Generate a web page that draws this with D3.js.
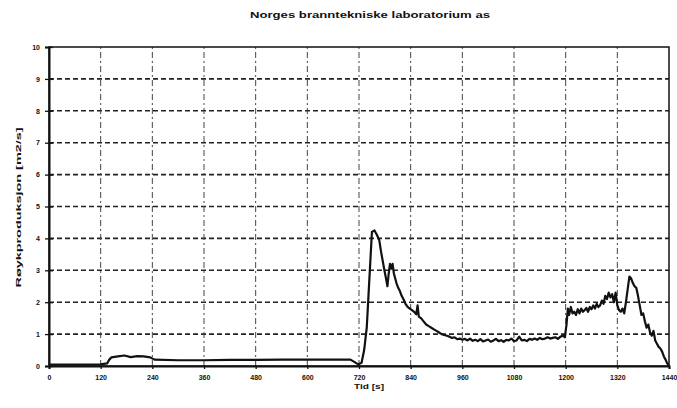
<!DOCTYPE html>
<html>
<head>
<meta charset="utf-8">
<script src="https://cdn.jsdelivr.net/npm/d3@7"></script>
<style>
  body { margin: 0; background: #fff; }
  text { font-family: "Liberation Sans", Arial, sans-serif; font-weight: bold; fill: #111; }
</style>
</head>
<body>
<svg id="chart"></svg>
<script>
const width = 677;
const height = 408;
const margin = { left: 49, right: 7, top: 47, bottom: 42 };

const title = 'Norges branntekniske laboratorium as';
const xTitle = 'Tid [s]';
const yTitle = 'Røykproduksjon [m2/s]';

const xTicks = [0, 120, 240, 360, 480, 600, 720, 840, 960, 1080, 1200, 1320, 1440];
const yTicks = [0, 1, 2, 3, 4, 5, 6, 7, 8, 9, 10];

// time [s]
const times = [
    0, 60, 120, 135, 140, 145, 160, 175, 190, 205, 220, 235, 245, 300, 360, 420, 480, 540, 600, 660,
    700, 710, 718, 726, 732, 738, 742, 746, 750, 756, 762, 767, 771, 775, 779, 782, 786, 789, 792, 795,
    798, 801, 804, 807, 811, 815, 819, 823, 828, 833, 838, 843, 848, 853, 856, 859, 864, 870, 876, 882,
    888, 894, 900, 906, 912, 918, 924, 930, 936, 942, 948, 954, 960, 966, 972, 978, 984, 990, 996, 1002,
    1008, 1014, 1020, 1026, 1032, 1038, 1044, 1050, 1056, 1062, 1068, 1074, 1080, 1086, 1092, 1098, 1104, 1110, 1116, 1122,
    1128, 1134, 1140, 1146, 1152, 1158, 1164, 1170, 1176, 1182, 1188, 1194, 1198, 1202, 1205, 1208, 1212, 1216, 1220, 1224,
    1228, 1232, 1236, 1240, 1244, 1248, 1252, 1256, 1260, 1264, 1268, 1272, 1276, 1280, 1284, 1288, 1292, 1296, 1300, 1304,
    1308, 1312, 1316, 1320, 1324, 1328, 1332, 1336, 1340, 1344, 1348, 1352, 1356, 1360, 1364, 1368, 1372, 1376, 1380, 1384,
    1388, 1392, 1396, 1400, 1404, 1408, 1412, 1416, 1420, 1424, 1428, 1432, 1436, 1440
];

// smoke production [m2/s]
const smoke = [
    0.04, 0.04, 0.05, 0.08, 0.2, 0.27, 0.3, 0.33, 0.28, 0.31, 0.3, 0.27, 0.2, 0.18, 0.18, 0.19, 0.19, 0.2, 0.2, 0.2,
    0.2, 0.12, 0.05, 0.1, 0.5, 1.2, 2.2, 3.2, 4.2, 4.25, 4.1, 3.95, 3.6, 3.3, 3.0, 2.8, 2.5, 2.9, 3.2, 3.05,
    3.2, 2.9, 2.75, 2.6, 2.45, 2.35, 2.2, 2.1, 1.95, 1.85, 1.8, 1.75, 1.7, 1.62, 1.9, 1.55, 1.5, 1.4, 1.3, 1.25,
    1.2, 1.15, 1.1, 1.05, 1.0, 0.97, 0.95, 0.92, 0.88, 0.9, 0.84, 0.86, 0.82, 0.85, 0.8, 0.86, 0.79, 0.82, 0.78, 0.84,
    0.77, 0.8, 0.83, 0.76, 0.8, 0.85, 0.78, 0.81, 0.76, 0.82, 0.8, 0.86, 0.78, 0.8, 0.92, 0.8, 0.82, 0.78, 0.85, 0.82,
    0.86, 0.82, 0.88, 0.84, 0.86, 0.9, 0.86, 0.88, 0.9, 0.85, 0.92, 0.95, 0.9, 1.3, 1.8, 1.6, 1.85, 1.65, 1.7, 1.6,
    1.78, 1.65, 1.8, 1.7, 1.75, 1.82, 1.7, 1.85, 1.78, 1.9, 1.8, 1.95, 1.85, 1.9, 2.05, 1.95, 2.2, 2.1, 2.3, 2.15,
    2.25, 2.0, 2.3, 1.9, 1.75, 1.7, 1.8, 1.65, 2.0, 2.4, 2.8, 2.75, 2.6, 2.5, 2.45, 2.2, 1.9, 1.6, 1.65, 1.4,
    1.2, 1.3, 1.05, 0.95, 1.1, 0.8, 0.7, 0.6, 0.55, 0.45, 0.3, 0.2, 0.08, 0.0
];

const svg = d3.select('#chart')
    .attr('width', width)
    .attr('height', height);

const x = d3.scaleLinear().domain([0, 1440]).range([margin.left, width - margin.right - 1]);
const y = d3.scaleLinear().domain([0, 10]).range([height - margin.bottom, margin.top]);

// grid
svg.append('g')
    .selectAll('line')
    .data(yTicks.slice(1, -1))
    .enter().append('line')
    .attr('x1', x(0)).attr('x2', x(1440))
    .attr('y1', d => y(d)).attr('y2', d => y(d))
    .attr('stroke', '#222')
    .attr('stroke-width', 1.6)
    .attr('stroke-dasharray', '5,3');

svg.append('g')
    .selectAll('line')
    .data(xTicks.slice(1, -1))
    .enter().append('line')
    .attr('x1', d => x(d)).attr('x2', d => x(d))
    .attr('y1', y(0)).attr('y2', y(10))
    .attr('stroke', '#444')
    .attr('stroke-width', 1)
    .attr('stroke-dasharray', '6,3,2,3');

// frame
svg.append('rect')
    .attr('x', x(0)).attr('y', y(10))
    .attr('width', x(1440) - x(0)).attr('height', y(0) - y(10))
    .attr('fill', 'none')
    .attr('stroke', '#111')
    .attr('stroke-width', 1.5);

// axes
const xAxis = svg.append('g')
    .attr('transform', `translate(0, ${y(0)})`)
    .call(d3.axisBottom(x).tickValues(xTicks).tickFormat(d3.format('d')).tickSize(3).tickPadding(6));
const yAxis = svg.append('g')
    .attr('transform', `translate(${x(0)}, 0)`)
    .call(d3.axisLeft(y).tickValues(yTicks).tickFormat(d3.format('d')).tickSize(4).tickPadding(5));

[xAxis, yAxis].forEach(a => {
    a.select('.domain').attr('stroke', '#111').attr('stroke-width', 2);
    a.selectAll('.tick line').attr('stroke', '#111').attr('stroke-width', 1.3);
    a.selectAll('.tick text')
        .attr('font-size', 7)
        .attr('font-family', '"Liberation Sans", Arial, sans-serif')
        .attr('font-weight', 'bold')
        .attr('fill', '#111');
});
yAxis.selectAll('.tick line').attr('x2', 4).attr('x1', -4);

// series
const points = times.map((t, i) => ({ t: t, v: smoke[i] }));
const line = d3.line()
    .x(d => x(d.t))
    .y(d => y(d.v));

svg.append('path')
    .datum(points)
    .attr('fill', 'none')
    .attr('stroke', '#111')
    .attr('stroke-width', 2.2)
    .attr('stroke-linejoin', 'round')
    .attr('d', line);

// labels
svg.append('text')
    .attr('x', 250).attr('y', 18)
    .attr('font-size', 9)
    .attr('textLength', 240)
    .attr('lengthAdjust', 'spacingAndGlyphs')
    .text(title);

svg.append('text')
    .attr('x', 354).attr('y', 389)
    .attr('font-size', 8)
    .attr('textLength', 30)
    .attr('lengthAdjust', 'spacingAndGlyphs')
    .text(xTitle);

svg.append('text')
    .attr('transform', `translate(21, ${(y(0) + y(10)) / 2 + 1}) rotate(-90)`)
    .attr('text-anchor', 'middle')
    .attr('font-size', 8)
    .attr('textLength', 160)
    .attr('lengthAdjust', 'spacingAndGlyphs')
    .text(yTitle);
</script>
</body>
</html>
